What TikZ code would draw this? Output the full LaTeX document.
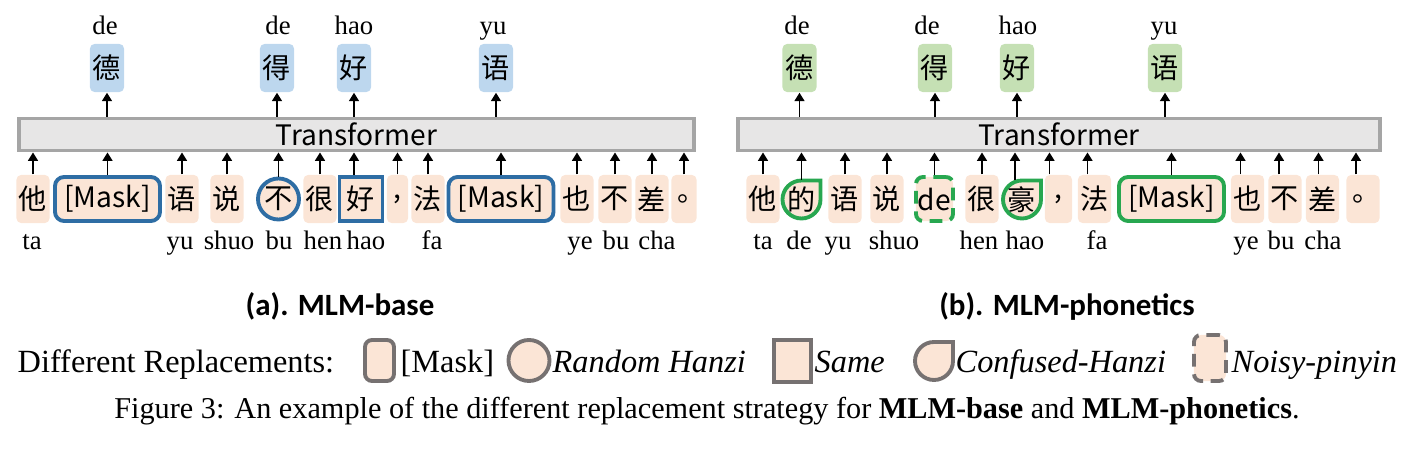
\documentclass[tikz,border=0pt]{standalone}
\usepackage{fontspec}
\setmainfont{Liberation Serif}
\setsansfont{Carlito}
\newfontfamily\cjk{Noto Sans CJK SC}
\usetikzlibrary{arrows.meta, positioning}
\definecolor{peach}{HTML}{FBE5D6}
\definecolor{skyBlue}{HTML}{BDD7EE}
\definecolor{leafGreen}{HTML}{C5E0B4}
\definecolor{maskBlue}{HTML}{2E6DA4}
\definecolor{maskGreen}{RGB}{40,167,80}
\definecolor{tfGray}{HTML}{A5A5A5}
\definecolor{tfFill}{HTML}{E7E6E6}
\definecolor{legGray}{HTML}{767171}

\begin{document}
\begin{tikzpicture}[
  x=0.01cm, y=0.01cm,
  tok/.style={fill=peach, rounded corners=1.3pt, minimum width=0.33cm, minimum height=0.48cm,
              inner sep=0pt, font=\cjk\fontsize{8}{9}\selectfont},
  outA/.style={tok, fill=skyBlue, minimum width=0.34cm},
  outB/.style={tok, fill=leafGreen, minimum width=0.34cm},
  maskbox/.style={tok, line width=1.1pt, rounded corners=2.6pt, minimum width=1.05cm, minimum height=0.44cm},
  randbox/.style={tok, circle, line width=1.1pt, minimum size=0.41cm},
  samebox/.style={tok, sharp corners, line width=1.1pt, minimum width=0.43cm, minimum height=0.44cm},
  noisybox/.style={tok, line width=1.1pt, rounded corners=2pt, dash pattern=on 3.6pt off 2.2pt,
                   minimum width=0.37cm, minimum height=0.44cm},
  dropline/.style={fill=peach, line width=1.1pt},
  bare/.style={inner sep=0pt, minimum size=0.38cm, font=\cjk\fontsize{8}{9}\selectfont},
  tf/.style={draw=tfGray, fill=tfFill, line width=1.1pt, minimum height=0.32cm, inner sep=0pt,
             font=\cjk\fontsize{8}{9}\selectfont},
  py/.style={anchor=base, inner sep=0pt, font=\fontsize{7.6}{9}\selectfont},
  arr/.style={-{Triangle[length=2.4pt,width=2.8pt]}, line width=0.55pt},
  sub/.style={anchor=base, inner sep=0pt, font=\sffamily\bfseries\fontsize{8.8}{10}\selectfont},
  leg/.style={anchor=base west, inner sep=0pt, font=\fontsize{9.2}{11}\selectfont},
  legbox/.style={fill=peach, draw=legGray, line width=1.1pt, inner sep=0pt}
]
\useasboundingbox (0,0) rectangle (1414,-452);

% (a) MLM-base
\node[tf, minimum width=6.75cm] (tfA) at (356.5,-134.5) {Transformer};

\node[tok] (aTa) at (33,-199) {他};
\node[maskbox, draw=maskBlue] (aMaskL) at (107.5,-199) {[Mask]};
\node[tok] (aYu) at (182,-199) {语};
\node[tok] (aShuo) at (227,-199) {说};
\node[randbox, draw=maskBlue] (aBu) at (278.5,-199) {不};
\node[tok] (aHen) at (320,-199) {很};
\node[samebox, draw=maskBlue] (aHao) at (361,-199) {好};
\node[tok, minimum width=0.21cm] (aComma) at (397.5,-199) {,};
\node[tok] (aFa) at (428,-199) {法};
\node[maskbox, draw=maskBlue] (aMaskR) at (501,-199) {[Mask]};
\node[tok] (aYe) at (577,-199) {也};
\node[tok] (aNo) at (615,-199) {不};
\node[tok] (aCha) at (652,-199) {差};
\node[tok, minimum width=0.25cm] (aStop) at (684,-199) {\makebox[0.25cm][l]{\hspace{0.06cm}。}};

\node[py] (pTaA) at (32,-250) {ta};
\node[py] (pYuA) at (180,-250) {yu};
\node[py] (pShuoA) at (229,-250) {shuo};
\node[py] (pBuA) at (279,-250) {bu};
\node[py] (pHenA) at (323,-250) {hen};
\node[py] (pHaoA) at (366,-250) {hao};
\node[py] (pFaA) at (432,-250) {fa};
\node[py] (pYeA) at (580,-250) {ye};
\node[py] (pNoA) at (616,-250) {bu};
\node[py] (pChaA) at (657,-250) {cha};

\node[outA] (aOutDe) at (107,-68) {德};
\node[outA] (aOutDe2) at (277,-68) {得};
\node[outA] (aOutHao) at (354,-68) {好};
\node[outA] (aOutYu) at (496,-68) {语};

\node[py] (qDeA) at (105,-35) {de};
\node[py] (qDe2A) at (278,-35) {de};
\node[py] (qHaoA) at (354,-35) {hao};
\node[py] (qYuA) at (493,-35) {yu};

\draw[arr] (aTa.north) -- (aTa.north |- tfA.south);
\draw[arr] (aMaskL.north) -- (aMaskL.north |- tfA.south);
\draw[arr] (aYu.north) -- (aYu.north |- tfA.south);
\draw[arr] (aShuo.north) -- (aShuo.north |- tfA.south);
\draw[arr] (aBu.north) -- (aBu.north |- tfA.south);
\draw[arr] (aHen.north) -- (aHen.north |- tfA.south);
\draw[arr] ([xshift=-0.07cm]aHao.north) -- ([xshift=-0.07cm]aHao.north |- tfA.south);
\draw[arr] (aComma.north) -- (aComma.north |- tfA.south);
\draw[arr] (aFa.north) -- (aFa.north |- tfA.south);
\draw[arr] (aMaskR.north) -- (aMaskR.north |- tfA.south);
\draw[arr] (aYe.north) -- (aYe.north |- tfA.south);
\draw[arr] (aNo.north) -- (aNo.north |- tfA.south);
\draw[arr] (aCha.north) -- (aCha.north |- tfA.south);
\draw[arr] (aStop.north) -- (aStop.north |- tfA.south);

\draw[arr] (aOutDe.south |- tfA.north) -- (aOutDe.south);
\draw[arr] (aOutDe2.south |- tfA.north) -- (aOutDe2.south);
\draw[arr] (aOutHao.south |- tfA.north) -- (aOutHao.south);
\draw[arr] (aOutYu.south |- tfA.north) -- (aOutYu.south);

\node[sub] (capA) at (340,-316) {(a). MLM-base};

% (b) MLM-phonetics
\node[tf, minimum width=6.42cm] (tfB) at (1059,-134.5) {Transformer};

\draw[dropline, draw=maskGreen] (801.5,-180.5) -- (820.5,-180.5) -- (820.5,-199.5)
  arc[start angle=0, end angle=-270, radius=19] -- cycle;
\draw[dropline, draw=maskGreen] (1022,-180.5) -- (1041,-180.5) -- (1041,-199.5)
  arc[start angle=0, end angle=-270, radius=19] -- cycle;

\node[tok] (bTa) at (763,-199) {他};
\node[bare] (bDe) at (801.5,-199.5) {的};
\node[tok] (bYu) at (845,-199) {语};
\node[tok] (bShuo) at (887,-199) {说};
\node[noisybox, draw=maskGreen] (bNoisy) at (934.5,-199) {de};
\node[tok] (bHen) at (982,-199) {很};
\node[bare] (bHao) at (1022,-199.5) {豪};
\node[tok, minimum width=0.27cm] (bComma) at (1058.5,-199) {,};
\node[tok] (bFa) at (1094.5,-199) {法};
\node[maskbox, draw=maskGreen] (bMask) at (1171.5,-199) {[Mask]};
\node[tok] (bYe) at (1247.5,-199) {也};
\node[tok] (bNo) at (1285,-199) {不};
\node[tok] (bCha) at (1322.5,-199) {差};
\node[tok] (bStop) at (1363,-199) {\makebox[0.33cm][l]{\hspace{0.06cm}。}};

\node[py] (pTaB) at (763,-250) {ta};
\node[py] (pDeB) at (799,-250) {de};
\node[py] (pYuB) at (838,-250) {yu};
\node[py] (pShuoB) at (894,-250) {shuo};
\node[py] (pHenB) at (979,-250) {hen};
\node[py] (pHaoB) at (1025,-250) {hao};
\node[py] (pFaB) at (1097,-250) {fa};
\node[py] (pYeB) at (1246,-250) {ye};
\node[py] (pNoB) at (1281,-250) {bu};
\node[py] (pChaB) at (1323,-250) {cha};

\node[outB] (bOutDe) at (799.5,-68) {德};
\node[outB] (bOutDe2) at (935,-68) {得};
\node[outB] (bOutHao) at (1017,-68) {好};
\node[outB] (bOutYu) at (1165,-68) {语};

\node[py] (qDeB) at (797,-35) {de};
\node[py] (qDe2B) at (927,-35) {de};
\node[py] (qHaoB) at (1018,-35) {hao};
\node[py] (qYuB) at (1164,-35) {yu};

\draw[arr] (bTa.north) -- (bTa.north |- tfB.south);
\draw[arr] (bDe.north) -- (bDe.north |- tfB.south);
\draw[arr] (bYu.north) -- (bYu.north |- tfB.south);
\draw[arr] (bShuo.north) -- (bShuo.north |- tfB.south);
\draw[arr] (bNoisy.north) -- (bNoisy.north |- tfB.south);
\draw[arr] (bHen.north) -- (bHen.north |- tfB.south);
\draw[arr] ([xshift=-0.07cm]bHao.north) -- ([xshift=-0.07cm]bHao.north |- tfB.south);
\draw[arr] ([xshift=-0.09cm]bComma.north) -- ([xshift=-0.09cm]bComma.north |- tfB.south);
\draw[arr] ([xshift=-0.07cm]bFa.north) -- ([xshift=-0.07cm]bFa.north |- tfB.south);
\draw[arr] (bMask.north) -- (bMask.north |- tfB.south);
\draw[arr] ([xshift=-0.07cm]bYe.north) -- ([xshift=-0.07cm]bYe.north |- tfB.south);
\draw[arr] ([xshift=-0.06cm]bNo.north) -- ([xshift=-0.06cm]bNo.north |- tfB.south);
\draw[arr] ([xshift=-0.04cm]bCha.north) -- ([xshift=-0.04cm]bCha.north |- tfB.south);
\draw[arr] ([xshift=-0.07cm]bStop.north) -- ([xshift=-0.07cm]bStop.north |- tfB.south);

\draw[arr] (bOutDe.south |- tfB.north) -- (bOutDe.south);
\draw[arr] (bOutDe2.south |- tfB.north) -- (bOutDe2.south);
\draw[arr] (bOutHao.south |- tfB.north) -- (bOutHao.south);
\draw[arr] (bOutYu.south |- tfB.north) -- (bOutYu.south);

\node[sub] (capB) at (1067,-316) {(b). MLM-phonetics};

% legend
\node[leg] (legTitle) at (17,-373) {Different Replacements:};
\node[legbox, rounded corners=2pt, minimum width=0.29cm, minimum height=0.41cm] (lgMask) at (379.5,-360.5) {};
\node[leg] (lgMaskT) at (400,-373) {[Mask]};
\node[legbox, circle, minimum size=0.41cm] (lgRand) at (529,-360.5) {};
\node[leg] (lgRandT) at (552,-373) {\itshape Random Hanzi};
\node[legbox, minimum width=0.37cm, minimum height=0.42cm] (lgSame) at (792.5,-361) {};
\node[leg] (lgSameT) at (814,-373) {\itshape Same};
\draw[legbox] (934,-342) -- (953,-342) -- (953,-361)
  arc[start angle=0, end angle=-270, radius=19] -- cycle;
\coordinate (lgConf) at (934,-361);
\node[leg] (lgConfT) at (955,-373) {\itshape Confused-Hanzi};
\node[legbox, rounded corners=2pt, dash pattern=on 3.6pt off 2.2pt, minimum width=0.32cm,
      minimum height=0.46cm] (lgNoisy) at (1210,-358) {};
\node[leg] (lgNoisyT) at (1231,-373) {\itshape Noisy-pinyin};

% caption
\node[anchor=base, inner sep=0pt, font=\fontsize{8.6}{10}\selectfont] (figCap) at (707,-419)
  {Figure 3: An example of the different replacement strategy for \textbf{MLM-base} and \textbf{MLM-phonetics}.};
\end{tikzpicture}
\end{document}
